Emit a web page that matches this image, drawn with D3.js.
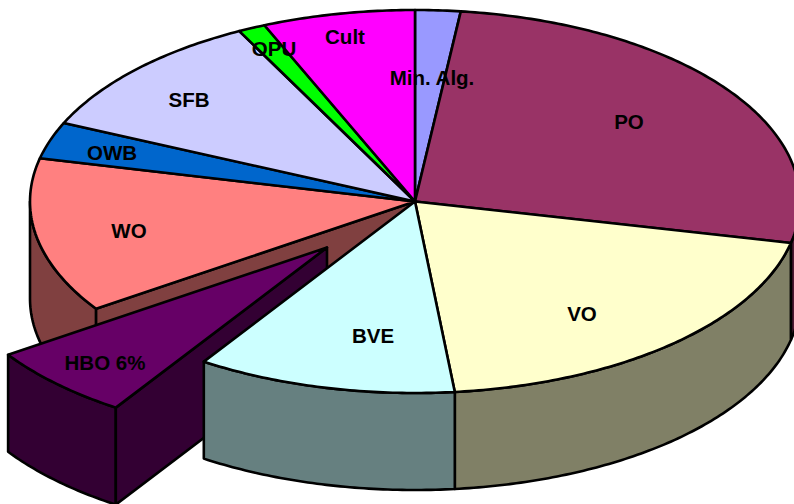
<!DOCTYPE html>
<html>
<head>
<meta charset="utf-8">
<script src="https://cdn.jsdelivr.net/npm/d3@7"></script>
<style>html,body{margin:0;padding:0;background:#fff}svg{display:block}</style>
</head>
<body>
<script>
const categories = ["Min. Alg.","PO","VO","BVE","HBO","WO","OWB","SFB","OPU","Cult"];
const values = [1.9,26.6,19.9,10.9,6.3,13.1,3.1,10.75,1.15,6.4];
const labels = ["Min. Alg.","PO","VO","BVE","HBO 6%","WO","OWB","SFB","OPU","Cult"];
const topColors = ["#9999FF","#993366","#FFFFCC","#CCFFFF","#660066","#FF8080","#0066CC","#CCCCFF","#00FF00","#FF00FF"];
const sideColors = ["#4D4D80","#4D1A33","#808066","#668080","#330033","#804040","#003366","#666680","#008000","#800080"];
const labelAnchors = [[432,77],[629,121],[582,313],[373,335],[105,362],[129,230],[112,152],[189,99],[274,48],[345,36]];
const explodedSlice = "HBO";

const W=794,H=504, depth=97, explode=[-88,46];
const sx=d3.scaleLinear().domain([-1,1]).range([30,800]);
const sy=d3.scaleLinear().domain([-1,1]).range([10,393]);
const svg=d3.select("body").append("svg").attr("width",W).attr("height",H).attr("viewBox",`0 0 ${W} ${H}`);
const pie=d3.pie().value(d=>d).sort(null)(values);
const line=d3.line();
const pt=(t,dx=0,dy=0)=>[sx(Math.sin(t))+dx,sy(-Math.cos(t))+dy];
const centre=(dx=0,dy=0)=>[sx(0)+dx,sy(0)+dy];
const arcPts=(a,b,dx=0,dy=0)=>{const n=Math.max(2,Math.ceil((b-a)*80));return d3.range(n+1).map(i=>pt(a+(b-a)*i/n,dx,dy));};
const draw=(pts,fill)=>svg.append("path").attr("d",line(pts)+"Z").attr("fill",fill)
  .attr("stroke","#000").attr("stroke-width",2.6).attr("stroke-linejoin","round");
const Q=Math.PI/2;

function wall(i,dx=0,dy=0){
  const a=Math.max(pie[i].startAngle,Q), b=Math.min(pie[i].endAngle,3*Q);
  if(b<=a) return;
  const upper=arcPts(a,b,dx,dy), lower=arcPts(a,b,dx,dy+depth).reverse();
  draw(upper.concat(lower),sideColors[i]);
}
function cutFace(i,t,dx=0,dy=0){
  const c=centre(dx,dy), p=pt(t,dx,dy);
  draw([c,p,[p[0],p[1]+depth],[c[0],c[1]+depth]],sideColors[i]);
}
function topFace(i,dx=0,dy=0){
  draw([centre(dx,dy)].concat(arcPts(pie[i].startAngle,pie[i].endAngle,dx,dy)),topColors[i]);
}

const iEx=categories.indexOf(explodedSlice), iWO=categories.indexOf("WO");
// back-to-front painting order
wall(iWO);
cutFace(iWO,pie[iWO].startAngle);
wall(iEx,explode[0],explode[1]);
cutFace(iEx,pie[iEx].startAngle,explode[0],explode[1]);
topFace(iEx,explode[0],explode[1]);
categories.forEach((c,i)=>{ if(i!==iEx&&i!==iWO) wall(i); });
categories.forEach((c,i)=>{ if(i!==iEx) topFace(i); });

svg.append("g").selectAll("text").data(labels).join("text")
  .attr("x",(d,i)=>labelAnchors[i][0]).attr("y",(d,i)=>labelAnchors[i][1])
  .attr("text-anchor","middle").attr("dominant-baseline","central")
  .attr("font-family","'Liberation Sans',Arial,sans-serif").attr("font-weight","bold")
  .attr("font-size",20.5).attr("fill","#000").text(d=>d);
</script>
</body>
</html>
